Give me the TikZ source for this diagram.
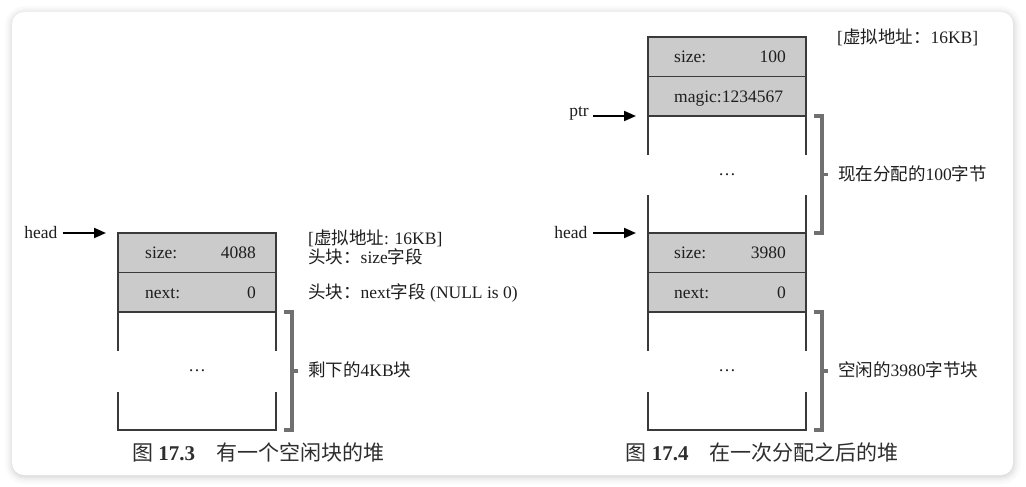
\documentclass[tikz,border=0pt]{standalone}
\usepackage{fontspec}
\setmainfont{Liberation Serif}
\newfontfamily\cjk{Noto Sans CJK SC}
\usetikzlibrary{arrows.meta,calc}
\definecolor{boxline}{HTML}{3A3A3A}
\definecolor{cellgray}{HTML}{CBCBCB}
\definecolor{bracegray}{HTML}{707070}
\definecolor{textcol}{HTML}{1E1E1E}
\definecolor{capcol}{HTML}{2E2E2E}
\begin{document}
\begin{tikzpicture}[x=1pt,y=-1pt,
  cell/.style={draw=boxline, fill=cellgray, line width=1.5pt, minimum width=158pt,
    minimum height=39.5pt, inner sep=0pt, outer sep=0pt, anchor=north west},
  area/.style={minimum width=158pt, inner sep=0pt, outer sep=0pt, anchor=north west,
    font=\fontsize{17.5}{21}\selectfont, text=textcol},
  edge/.style={draw=boxline, line width=1.5pt},
  txt/.style={inner sep=0pt, font=\fontsize{17.5}{21}\selectfont, text=textcol},
  captxt/.style={inner sep=0pt, font=\fontsize{21}{25}\selectfont, text=capcol, anchor=base},
  ptrarrow/.style={line width=2pt, draw=black, -{Triangle[length=12pt,width=10pt]}},
  bracket/.style={draw=bracegray, line width=3.5pt}]
\useasboundingbox (0,0) rectangle (1026,487);
% background and framed card with soft shadow
\fill[white] (0,0) rectangle (1026,487);
\foreach \w/\o in {16/0.02,11/0.025,7/0.03,3/0.04}
  \draw[black, opacity=\o, line width=\w pt, rounded corners=12pt] (13,14) rectangle (1013,476);
\fill[white, rounded corners=12pt] (12,12) rectangle (1013,475);

% ================= left: figure 17.3 =================
\node[cell] (c1) at (118,233) {};
\node[cell] (c2) at (c1.south west) {};
\node[area, minimum height=118pt] (f1) at (c2.south west) {…};
\draw[edge] (f1.north west) -- ++(0,39);
\draw[edge] (f1.north east) -- ++(0,39);
\draw[edge] ($(f1.south west)+(0,-38)$) -- (f1.south west) -- (f1.south east) -- ++(0,-38);

\node[txt, anchor=base west] (c1l) at ($(c1.west)+(27,6)$) {size:};
\node[txt, anchor=base east] (c1r) at ($(c1.east)+(-20,6)$) {4088};
\node[txt, anchor=base west] (c2l) at ($(c2.west)+(27,6)$) {next:};
\node[txt, anchor=base east] (c2r) at ($(c2.east)+(-20,6)$) {0};

\node[txt, anchor=base east] (headL) at (57.5,238) {head};
\draw[ptrarrow, shorten <=5pt, shorten >=12pt] (headL.east |- c1.north west) -- (c1.north west);

\node[txt, anchor=base west] (vaL) at (308,244) {[{\cjk 虚拟地址}: 16KB]};
\node[txt, anchor=base west] (hsL) at (308,263) {{\cjk 头块：}size{\cjk 字段}};
\node[txt, anchor=base west] (hnL) at (308,298.5) {{\cjk 头块：}next{\cjk 字段} (NULL is 0)};

\draw[bracket] ($(f1.north east)+(8,0)$) -- ($(f1.north east)+(16,0)$)
  -- ($(f1.south east)+(16,0)$) -- ($(f1.south east)+(8,0)$);
\draw[bracket] ($(f1.east)+(16,0)$) -- ($(f1.east)+(22,0)$);
\node[txt, anchor=base west] (remL) at (308,376.5) {{\cjk 剩下的}4KB{\cjk 块}};

\node[captxt] (capL) at (258,460) {{\cjk 图} \textbf{17.3}\quad{\cjk 有一个空闲块的堆}};

% ================= right: figure 17.4 =================
\node[cell] (r1) at (648,37) {};
\node[cell] (r2) at (r1.south west) {};
\node[area, minimum height=117pt] (u) at (r2.south west) {…};
\node[cell] (r3) at (u.south west) {};
\node[cell] (r4) at (r3.south west) {};
\node[area, minimum height=118pt] (f2) at (r4.south west) {…};

\draw[edge] (u.north west) -- ++(0,39);
\draw[edge] (u.north east) -- ++(0,39);
\draw[edge] (u.south west) -- ++(0,-38);
\draw[edge] (u.south east) -- ++(0,-38);
\draw[edge] (f2.north west) -- ++(0,39);
\draw[edge] (f2.north east) -- ++(0,39);
\draw[edge] ($(f2.south west)+(0,-38)$) -- (f2.south west) -- (f2.south east) -- ++(0,-38);

\node[txt, anchor=base west] (r1l) at ($(r1.west)+(26,6)$) {size:};
\node[txt, anchor=base east] (r1r) at ($(r1.east)+(-20,6)$) {100};
\node[txt, anchor=base west] (r2l) at ($(r2.west)+(26,6)$) {magic:1234567};
\node[txt, anchor=base west] (r3l) at ($(r3.west)+(26,6)$) {size:};
\node[txt, anchor=base east] (r3r) at ($(r3.east)+(-20,6)$) {3980};
\node[txt, anchor=base west] (r4l) at ($(r4.west)+(26,6)$) {next:};
\node[txt, anchor=base east] (r4r) at ($(r4.east)+(-20,6)$) {0};

\node[txt, anchor=base east] (ptrR) at (589,116) {ptr};
\draw[ptrarrow, shorten <=4pt, shorten >=12pt] (ptrR.east |- u.north west) -- (u.north west);
\node[txt, anchor=base east] (headR) at (587.5,238) {head};
\draw[ptrarrow, shorten <=5.5pt, shorten >=12pt] (headR.east |- r3.north west) -- (r3.north west);

\node[txt, anchor=base west] (vaR) at (837,44) {[{\cjk 虚拟地址：}16KB]};

\draw[bracket] ($(u.north east)+(8,0)$) -- ($(u.north east)+(16,0)$)
  -- ($(u.south east)+(16,0)$) -- ($(u.south east)+(8,0)$);
\draw[bracket] ($(u.east)+(16,0)$) -- ($(u.east)+(22,0)$);
\node[txt, anchor=base west] (allocR) at (838,180.5) {{\cjk 现在分配的}100{\cjk 字节}};

\draw[bracket] ($(f2.north east)+(8,0)$) -- ($(f2.north east)+(16,0)$)
  -- ($(f2.south east)+(16,0)$) -- ($(f2.south east)+(8,0)$);
\draw[bracket] ($(f2.east)+(16,0)$) -- ($(f2.east)+(22,0)$);
\node[txt, anchor=base west] (freeR) at (838,376.5) {{\cjk 空闲的}3980{\cjk 字节块}};

\node[captxt] (capR) at (762,460) {{\cjk 图} \textbf{17.4}\quad{\cjk 在一次分配之后的堆}};
\end{tikzpicture}
\end{document}
